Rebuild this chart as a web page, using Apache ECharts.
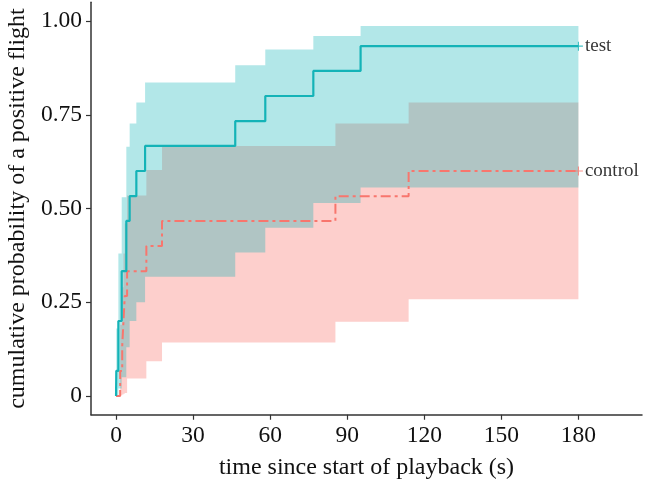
<!DOCTYPE html>
<html>
<head>
<meta charset="utf-8">
<script src="https://cdn.jsdelivr.net/npm/echarts@6/dist/echarts.min.js"></script>
<style>
html,body{margin:0;padding:0;background:#fff;}
#chart{width:646px;height:484px;}
</style>
</head>
<body>
<div id="chart"></div>
<script>
// ---- data ----
const testTime  = [0, 0.1, 0.9, 2.2, 4.0, 5.3, 7.9, 11.3, 46.4, 58.1, 76.8, 95.2, 180];
const testProb  = [0, 0.067, 0.2, 0.333, 0.467, 0.533, 0.6, 0.667, 0.733, 0.8, 0.867, 0.933, 0.933];
const testUpper = [0, 0.18, 0.38, 0.53, 0.665, 0.727, 0.783, 0.836, 0.882, 0.924, 0.96, 0.987, 0.987];
const testLower = [0, 0, 0.02, 0.05, 0.13, 0.2, 0.25, 0.318, 0.383, 0.449, 0.515, 0.556, 0.556];

const ctrlTime  = [0, 1.6, 2.4, 2.9, 3.4, 4.3, 11.8, 17.9, 85.4, 113.9, 180];
const ctrlProb  = [0, 0.067, 0.133, 0.2, 0.267, 0.333, 0.4, 0.467, 0.533, 0.6, 0.6];
const ctrlUpper = [0, 0.19, 0.29, 0.38, 0.46, 0.535, 0.603, 0.667, 0.727, 0.783, 0.783];
const ctrlLower = [0, 0.002, 0.004, 0.006, 0.008, 0.047, 0.093, 0.143, 0.198, 0.258, 0.258];

const groupNames = ['test', 'control'];
const xTicks = [0, 30, 60, 90, 120, 150, 180];
const yTicks = [0, 0.25, 0.5, 0.75, 1.0];
const yTickLabels = ['0', '0.25', '0.50', '0.75', '1.00'];
const xTitle = 'time since start of playback (s)';
const yTitle = 'cumulative probability of a positive flight';

// ---- build ----
const FONT = '"Liberation Serif", "DejaVu Serif", serif';
const FS = 23.5;
const TEAL = '#14b3b7';
const RED = '#f8766d';
const pairs = (xs, ys) => xs.map((x, i) => [x, ys[i]]);

// step band (KM style, value holds until next time) as one polygon
function band(name, times, lo, hi, color) {
  const rows = times.map((t, i) => [t, lo[i], hi[i]]);
  return {
    type: 'custom', name: name + '_band', silent: true,
    data: rows,
    encode: { x: 0, y: [1, 2] },
    renderItem: function (params, api) {
      if (params.dataIndex !== 0) return null;
      const up = [], dn = [];
      for (let i = 0; i < rows.length; i++) {
        const t0 = rows[i][0];
        const t1 = i < rows.length - 1 ? rows[i + 1][0] : rows[i][0];
        up.push(api.coord([t0, rows[i][2]]), api.coord([t1, rows[i][2]]));
        dn.push(api.coord([t0, rows[i][1]]), api.coord([t1, rows[i][1]]));
      }
      const pts = up.concat(dn.reverse());
      return { type: 'polygon', shape: { points: pts }, style: { fill: color } };
    }
  };
}

function endMark(name, times, probs, color) {
  const n = times.length - 1;
  return {
    type: 'scatter', name: name + '_end',
    data: [[times[n], probs[n]]],
    symbol: 'path://M-0.12,-1H0.12V1H-0.12Z M-1,-0.12H1V0.12H-1Z',
    symbolSize: 9,
    itemStyle: { color: color },
    label: {
      show: true, position: 'right', distance: 2,
      formatter: name, color: '#000', fontFamily: FONT, fontSize: 19
    },
    z: 5
  };
}

const series = [
  band('control', ctrlTime, ctrlLower, ctrlUpper, 'rgba(248,118,109,0.35)'),
  {
    type: 'line', name: 'control', step: 'end', data: pairs(ctrlTime, ctrlProb),
    symbol: 'none', lineStyle: { color: RED, width: 2, type: [10, 4, 3, 4] }
  },
  band('test', testTime, testLower, testUpper, 'rgba(0,175,178,0.3)'),
  {
    type: 'line', name: 'test', step: 'end', data: pairs(testTime, testProb),
    symbol: 'none', lineStyle: { color: TEAL, width: 2.2 }
  },
  endMark(groupNames[1], ctrlTime, ctrlProb, RED),
  endMark(groupNames[0], testTime, testProb, TEAL)
];

const chart = echarts.init(document.getElementById('chart'), null, { renderer: 'canvas' });
chart.setOption({
  animation: false,
  backgroundColor: '#fff',
  grid: { left: 91, right: 4, top: 2.25, bottom: 69.25, containLabel: false, outerBoundsMode: 'none' },
  xAxis: {
    type: 'value', min: -9.75, max: 204.75,
    splitLine: { show: false },
    axisLine: { show: true, onZero: false, lineStyle: { color: '#333', width: 1.5 } },
    axisTick: { show: true, customValues: xTicks, length: 5, lineStyle: { color: '#333', width: 1.2 } },
    axisLabel: { customValues: xTicks, color: '#111', fontFamily: FONT, fontSize: FS, margin: 9 },
    name: xTitle, nameLocation: 'middle', nameGap: 41,
    nameTextStyle: { color: '#111', fontFamily: FONT, fontSize: 24 }
  },
  yAxis: {
    type: 'value', min: -0.05, max: 1.05,
    splitLine: { show: false },
    axisLine: { show: true, onZero: false, lineStyle: { color: '#333', width: 1.5 } },
    axisTick: { show: true, customValues: yTicks, length: 5, lineStyle: { color: '#333', width: 1.2 } },
    axisLabel: {
      customValues: yTicks, color: '#111', fontFamily: FONT, fontSize: FS, margin: 9,
      formatter: v => yTickLabels[yTicks.indexOf(v)] ?? ''
    },
    name: yTitle, nameLocation: 'middle', nameGap: 61, nameRotate: 90,
    nameTextStyle: { color: '#111', fontFamily: FONT, fontSize: 24 }
  },
  series: series
});
</script>
</body>
</html>
